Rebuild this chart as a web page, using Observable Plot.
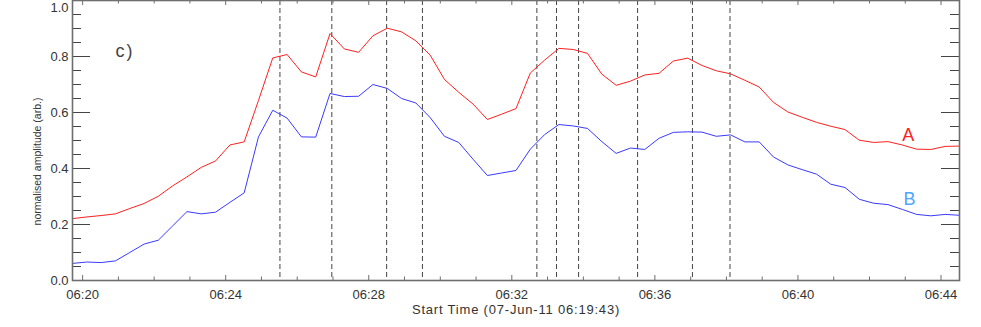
<!DOCTYPE html>
<html>
<head>
<meta charset="utf-8">
<script src="https://cdn.jsdelivr.net/npm/d3@7"></script>
<script src="https://cdn.jsdelivr.net/npm/@observablehq/plot@0.6"></script>
<style>
  html, body { margin: 0; padding: 0; background: #fff; }
  #chart svg { display: block; }
</style>
</head>
<body>
<div id="chart"></div>
<script>
// ---- data ----
const sampleTimes = [
  "06:19:43","06:20:07","06:20:31","06:20:55","06:21:19","06:21:43","06:22:07","06:22:31","06:22:55","06:23:19",
  "06:23:43","06:24:07","06:24:31","06:24:55","06:25:19","06:25:43","06:26:07","06:26:31","06:26:55","06:27:19",
  "06:27:43","06:28:07","06:28:31","06:28:55","06:29:19","06:29:43","06:30:07","06:30:31","06:30:55","06:31:19",
  "06:31:43","06:32:07","06:32:31","06:32:55","06:33:19","06:33:43","06:34:07","06:34:31","06:34:55","06:35:19",
  "06:35:43","06:36:07","06:36:31","06:36:55","06:37:19","06:37:43","06:38:07","06:38:31","06:38:55","06:39:19",
  "06:39:43","06:40:07","06:40:31","06:40:55","06:41:19","06:41:43","06:42:07","06:42:31","06:42:55","06:43:19",
  "06:43:43","06:44:07","06:44:31"
];
const seriesA = [
  0.221,0.227,0.232,0.238,0.257,0.275,0.301,0.338,0.370,0.404,
  0.427,0.484,0.495,0.643,0.795,0.807,0.745,0.727,0.882,0.827,
  0.815,0.874,0.901,0.888,0.856,0.805,0.718,0.672,0.630,0.575,
  0.594,0.614,0.741,0.787,0.829,0.825,0.811,0.737,0.697,0.712,
  0.734,0.740,0.784,0.794,0.768,0.749,0.738,0.715,0.691,0.636,
  0.602,0.583,0.565,0.551,0.539,0.501,0.493,0.496,0.484,0.469,
  0.468,0.479,0.480
];
const seriesB = [
  0.061,0.066,0.064,0.070,0.100,0.130,0.144,0.195,0.246,0.238,
  0.244,0.279,0.313,0.513,0.608,0.580,0.513,0.512,0.668,0.657,
  0.658,0.700,0.686,0.650,0.634,0.582,0.515,0.493,0.433,0.375,
  0.384,0.393,0.469,0.521,0.557,0.552,0.543,0.496,0.454,0.473,
  0.468,0.508,0.529,0.531,0.530,0.515,0.520,0.495,0.495,0.441,
  0.413,0.396,0.380,0.344,0.332,0.290,0.276,0.271,0.254,0.236,
  0.231,0.236,0.233
];
const eventTimes = ["06:25:31","06:26:58","06:28:30","06:29:30","06:32:42","06:33:15","06:33:52","06:35:31","06:37:03","06:38:06"];
const xDomain = ["06:19:43","06:44:31"];
const majorXTicks = ["06:20","06:24","06:28","06:32","06:36","06:40","06:44"];
const minorXTicks = ["06:21","06:22","06:23","06:25","06:26","06:27","06:29","06:30","06:31","06:33","06:34","06:35","06:37","06:38","06:39","06:41","06:42","06:43"];
const majorYTicks = [0.0,0.2,0.4,0.6,0.8,1.0];
const minorYTicks = [0.05,0.1,0.15,0.25,0.3,0.35,0.45,0.5,0.55,0.65,0.7,0.75,0.85,0.9,0.95];
const seriesLabels = ["A","B"];
const panelLabel = "c)";
const xLabel = "Start Time (07-Jun-11 06:19:43)";
const yLabel = "normalised amplitude (arb.)";

// ---- build ----
const day = "2011-06-07T";
const T = s => new Date(day + (s.length === 5 ? s + ":00" : s) + "Z");
const rowsA = sampleTimes.map((t, i) => ({t: T(t), v: seriesA[i]}));
const rowsB = sampleTimes.map((t, i) => ({t: T(t), v: seriesB[i]}));

const W = 981, H = 327, mL = 72, mR = 22, mT = 0, mB = 47;
const pw = W - mL - mR, ph = H - mT - mB;
const axisColor = "#6e6e6e";
const textColor = "#333";
const font = "'Liberation Sans', Arial, Helvetica, sans-serif";
const topY = majorYTicks[majorYTicks.length - 1];

const chart = Plot.plot({
  width: W, height: H,
  marginLeft: mL, marginRight: mR, marginTop: mT, marginBottom: mB,
  style: {fontFamily: font, background: "#fff", overflow: "visible"},
  x: {type: "utc", domain: xDomain.map(T), axis: null},
  y: {domain: [0, 1], axis: null},
  marks: [
    // dashed event lines
    Plot.ruleX(eventTimes, {x: d => T(d), stroke: "#444", strokeWidth: 1, strokeDasharray: "5,3"}),
    // series
    Plot.line(rowsA, {x: "t", y: "v", stroke: "#ff2020", strokeWidth: 1}),
    Plot.line(rowsB, {x: "t", y: "v", stroke: "#3a3aff", strokeWidth: 1}),
    // x ticks (inward, bottom and top)
    Plot.ruleX(majorXTicks, {x: d => T(d), stroke: axisColor, strokeWidth: 1, insetTop: ph - 5}),
    Plot.ruleX(minorXTicks, {x: d => T(d), stroke: axisColor, strokeWidth: 1, insetTop: ph - 3.5}),
    Plot.ruleX(majorXTicks, {x: d => T(d), stroke: axisColor, strokeWidth: 1, insetBottom: ph - 5}),
    Plot.ruleX(minorXTicks, {x: d => T(d), stroke: axisColor, strokeWidth: 1, insetBottom: ph - 3.5}),
    // y ticks (inward, left and right)
    Plot.ruleY(majorYTicks, {y: d => d, stroke: "#444", strokeWidth: 1, insetRight: pw - 18}),
    Plot.ruleY(minorYTicks, {y: d => d, stroke: "#444", strokeWidth: 1, insetRight: pw - 9}),
    Plot.ruleY(majorYTicks, {y: d => d, stroke: "#444", strokeWidth: 1, insetLeft: pw - 18}),
    Plot.ruleY(minorYTicks, {y: d => d, stroke: "#444", strokeWidth: 1, insetLeft: pw - 9}),
    // frame
    Plot.frame({stroke: axisColor, strokeWidth: 1.6}),
    // tick labels
    Plot.text(majorXTicks, {x: d => T(d), frameAnchor: "bottom", dy: 14, textAnchor: "middle", lineAnchor: "middle", text: d => d, fontSize: 13, fill: textColor}),
    Plot.text(majorYTicks.filter(d => d !== topY), {y: d => d, frameAnchor: "left", dx: -4, textAnchor: "end", lineAnchor: "middle", text: d => d.toFixed(1), fontSize: 13, fill: textColor}),
    Plot.text([topY], {y: d => d, frameAnchor: "left", dx: -4, dy: 2, textAnchor: "end", lineAnchor: "top", text: d => d.toFixed(1), fontSize: 13, fill: textColor}),
    // axis titles
    Plot.text([xLabel], {frameAnchor: "bottom", dy: 29.5, textAnchor: "middle", lineAnchor: "middle", text: d => d, fontSize: 13, fill: textColor}),
    Plot.text([yLabel], {frameAnchor: "left", dx: -35, dy: 21, rotate: -90, textAnchor: "middle", lineAnchor: "middle", text: d => d, fontSize: 10.5, fill: textColor}),
    // panel label
    Plot.text([panelLabel], {frameAnchor: "top-left", dx: 124.5 - mL, dy: 51, textAnchor: "middle", lineAnchor: "middle", text: d => d, fontSize: 18, fill: "#444"}),
    // series labels
    Plot.text([seriesLabels[0]], {frameAnchor: "top-left", dx: 907.7 - mL, dy: 134.4, textAnchor: "middle", lineAnchor: "middle", text: d => d, fontSize: 18, fill: "#ff2020"}),
    Plot.text([seriesLabels[1]], {frameAnchor: "top-left", dx: 909 - mL, dy: 199, textAnchor: "middle", lineAnchor: "middle", text: d => d, fontSize: 18, fill: "#4da6ff"})
  ]
});
chart.querySelectorAll("text").forEach(t => {
  if (t.textContent === xLabel) t.style.letterSpacing = "0.8px";
  if (t.textContent === panelLabel) t.style.letterSpacing = "2px";
});
document.getElementById("chart").appendChild(chart);
</script>
</body>
</html>
